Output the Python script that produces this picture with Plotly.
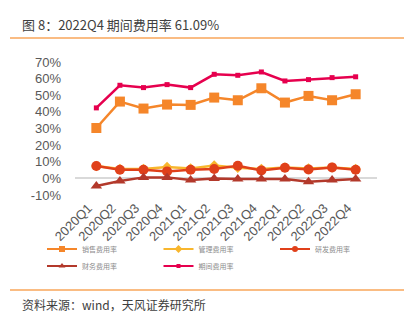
import plotly.graph_objects as go

categories = ["2020Q1", "2020Q2", "2020Q3", "2020Q4", "2021Q1", "2021Q2",
              "2021Q3", "2021Q4", "2022Q1", "2022Q2", "2022Q3", "2022Q4"]
sales = [30.3, 46.2, 42.0, 44.4, 44.2, 48.6, 47.0, 54.2, 45.6, 49.6, 47.0, 50.6]
admin = [7.4, 5.6, 5.6, 6.8, 6.0, 7.8, 6.4, 5.6, 6.6, 6.0, 6.6, 5.6]
rnd = [7.4, 5.2, 5.2, 4.2, 5.2, 5.6, 7.6, 4.8, 6.4, 5.4, 6.6, 5.2]
fin = [-4.6, -1.6, 0.6, 0.6, -1.0, 0.0, -0.4, -0.4, -0.4, -2.0, -1.0, -0.4]
period = [42.4, 56.0, 54.6, 56.4, 54.6, 62.6, 62.0, 64.0, 58.6, 59.4, 60.6, 61.1]
yticks = [-10, 0, 10, 20, 30, 40, 50, 60, 70]

W, H = 416, 322
L, R, T, B = 75, 39, 62, 127
PW, PH = W - L - R, H - T - B


def px(x):
    return (x - L) / PW


def py(y):
    return (H - B - y) / PH


FONT = "Liberation Sans, Arial, Noto Sans CJK SC"
CJK = "Noto Sans CJK SC, Liberation Sans"

fig = go.Figure()
series = [
    ("销售费用率", sales, "#F5862A", "square", 10, 6, "legend"),
    ("管理费用率", admin, "#F8B62D", "diamond", 8, 6, "legend"),
    ("研发费用率", rnd, "#E0401A", "circle", 10, 6, "legend"),
    ("财务费用率", fin, "#B3392B", "triangle-up", 10, 6, "legend2"),
    ("期间费用率", period, "#E6004E", "square", 5, 4, "legend2"),
]
for name, vals, color, sym, size, lsize, lg in series:
    fig.add_trace(go.Scatter(
        x=categories, y=vals, name=name, mode="lines+markers",
        line=dict(color=color, width=2.5),
        marker=dict(symbol=sym, size=size, color=color),
        showlegend=False, cliponaxis=False,
    ))
    # legend-only entry with the small legend glyph
    fig.add_trace(go.Scatter(
        x=[categories[0]], y=[None], name=name, mode="lines+markers",
        line=dict(color=color, width=2),
        marker=dict(symbol=sym, size=lsize, color=color),
        legend=lg, hoverinfo="skip",
    ))

legend_common = dict(
    orientation="h", xref="paper", yref="paper",
    xanchor="left", yanchor="middle",
    font=dict(family=CJK, size=7, color="#8c8c8c"),
    entrywidth=71.5, entrywidthmode="pixels",
    bgcolor="rgba(0,0,0,0)", itemwidth=30, tracegroupgap=0,
)

fig.update_layout(
    width=W, height=H,
    margin=dict(l=L, r=R, t=T, b=B, pad=0, autoexpand=False),
    paper_bgcolor="white", plot_bgcolor="white",
    showlegend=True,
    legend=dict(x=px(42), y=py(249), **legend_common),
    legend2=dict(x=px(42), y=py(266), **legend_common),
    xaxis=dict(
        type="category", showgrid=False, showline=False, zeroline=False,
        tickangle=-45, ticks="", automargin=False,
        ticklabelshift=-8, ticklabelstandoff=2,
        tickfont=dict(family=FONT, size=13, color="#595959"),
    ),
    yaxis=dict(
        range=[-10, 70], tickvals=yticks,
        ticktext=[f"{v}%" for v in yticks],
        showgrid=False, showline=False, automargin=False,
        zeroline=True, zerolinecolor="#d9d9d9", zerolinewidth=1.5,
        ticks="", ticklabelstandoff=13,
        tickfont=dict(family=FONT, size=13, color="#595959"),
    ),
    shapes=[
        dict(type="line", xref="paper", yref="paper",
             x0=px(10), x1=px(404), y0=py(38), y1=py(38),
             line=dict(color="#F9A65A", width=1.5)),
        dict(type="line", xref="paper", yref="paper",
             x0=px(10), x1=px(404), y0=py(290), y1=py(290),
             line=dict(color="#F9A65A", width=1.5)),
    ],
    annotations=[
        dict(text="图 8：2022Q4 期间费用率 61.09%", xref="paper", yref="paper",
             x=px(20), y=py(25), xanchor="left", yanchor="middle",
             showarrow=False, font=dict(family=CJK, size=13, color="#404040")),
        dict(text="资料来源：wind，天风证券研究所", xref="paper", yref="paper",
             x=px(20), y=py(304), xanchor="left", yanchor="middle",
             showarrow=False, font=dict(family=CJK, size=12, color="#404040")),
    ],
)

fig.write_html("out.html")
